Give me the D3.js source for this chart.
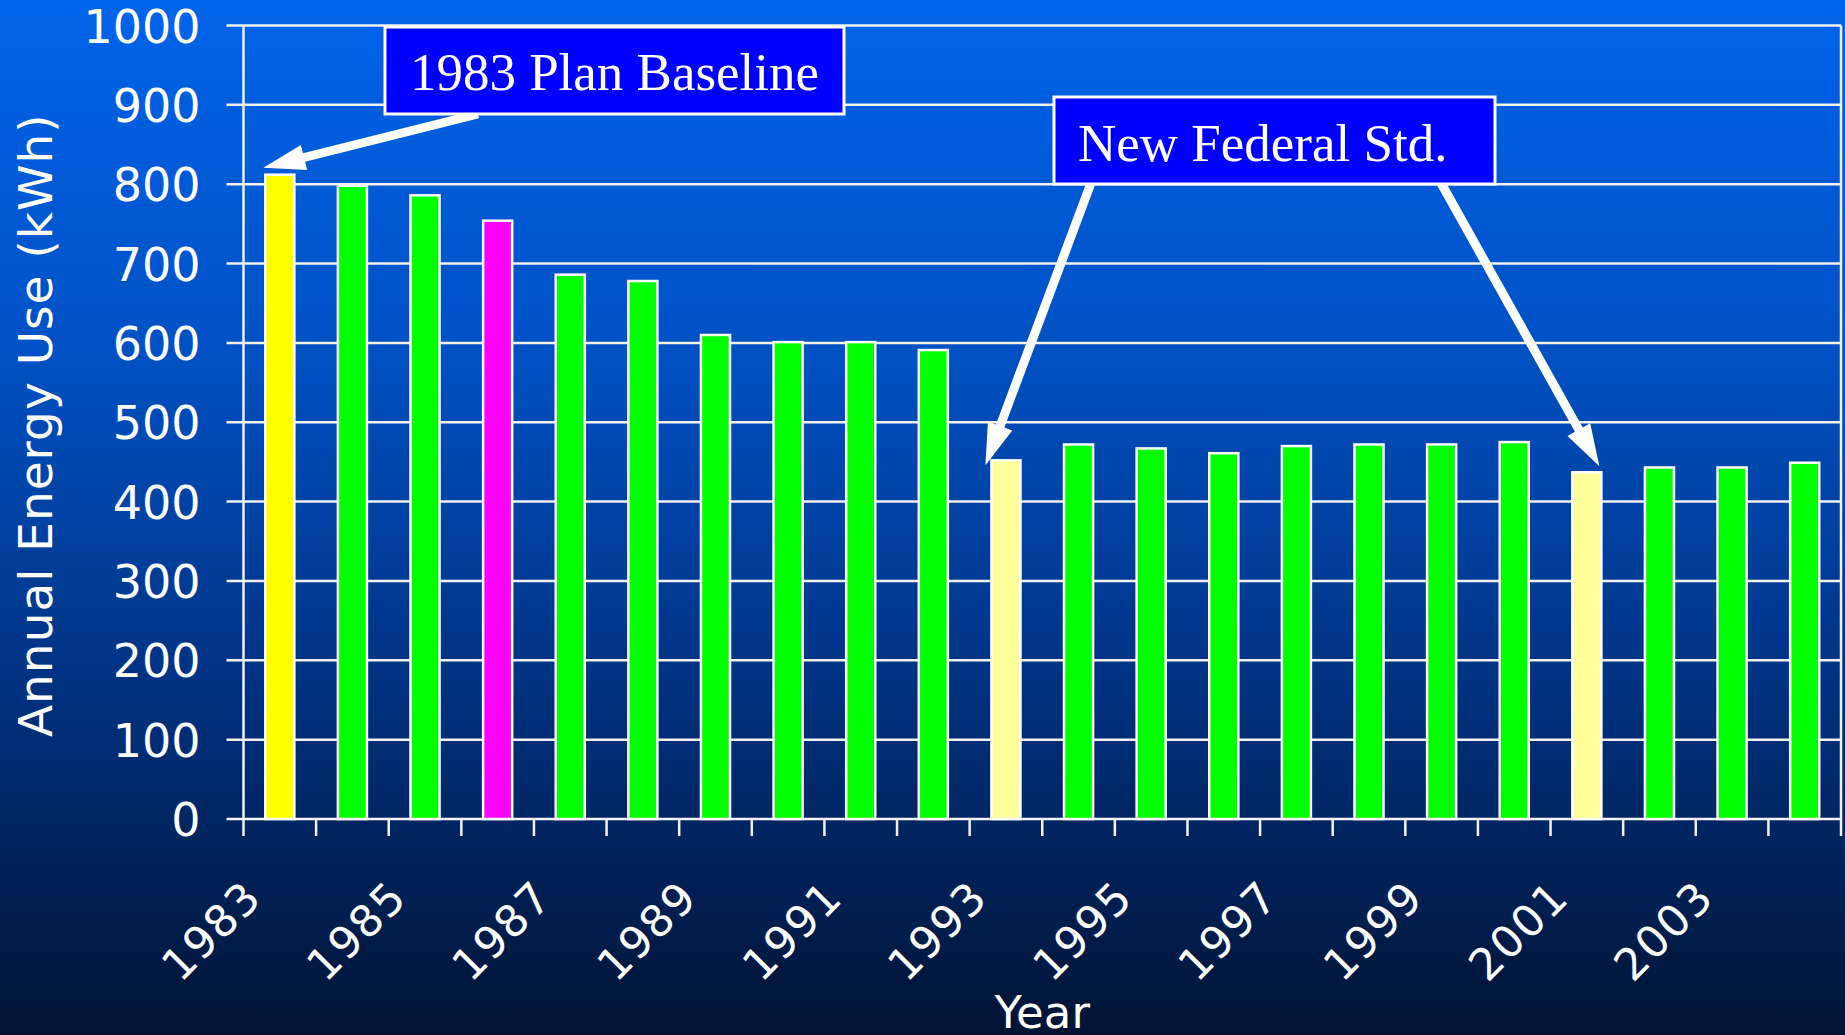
<!DOCTYPE html>
<html>
<head>
<meta charset="utf-8">
<script src="https://cdn.jsdelivr.net/npm/d3@7"></script>
<style>
    html, body { margin: 0; padding: 0; background: #001535; }
    svg { display: block; }
</style>
</head>
<body>
<svg id="chart"></svg>
<script>

// chart data
const years = ["1983", "1984", "1985", "1986", "1987", "1988", "1989", "1990", "1991", "1992", "1993",
    "1994", "1995", "1996", "1997", "1998", "1999", "2000", "2001", "2002", "2003", "2004"];
const energyUse = [812, 798, 786, 754, 686, 678, 610, 601, 601, 591, 452,
    472, 467, 461, 470, 472, 472, 475, 437, 443, 443, 449];
const barKind = ["baseline", "model", "model", "special", "model", "model", "model", "model", "model", "model", "standard",
    "model", "model", "model", "model", "model", "model", "model", "standard", "model", "model", "model"];
const yTicks = [0, 100, 200, 300, 400, 500, 600, 700, 800, 900, 1000];
const xTickLabels = ["1983", "1985", "1987", "1989", "1991", "1993", "1995", "1997", "1999", "2001", "2003"];

const kindColor = {
    baseline: "#ffff00",
    model: "#00ff00",
    special: "#ff00ff",
    standard: "#ffff99"
};

const chart = (function (svg) {

    const width = 1845,
        height = 1035;

    const plotLeft = 243.5,
        plotRight = 1841,
        plotTop = 25.5,
        plotBottom = 819;

    const axisFont = "'DejaVu Sans', Verdana, sans-serif",
        boxFont = "'Liberation Serif', 'Times New Roman', serif";

    svg.attr("width", width).attr("height", height);

    // background gradient
    const defs = svg.append("defs");
    const grad = defs.append("linearGradient")
        .attr("id", "bg")
        .attr("x1", 0).attr("y1", 0)
        .attr("x2", 0).attr("y2", 1);
    grad.append("stop").attr("offset", "0").attr("stop-color", "#0064ea");
    grad.append("stop").attr("offset", "0.35").attr("stop-color", "#0050c2");
    grad.append("stop").attr("offset", "0.7").attr("stop-color", "#002e78");
    grad.append("stop").attr("offset", "1").attr("stop-color", "#001333");

    svg.append("rect")
        .attr("width", width)
        .attr("height", height)
        .attr("fill", "url(#bg)");

    const x = d3.scaleBand()
        .domain(years)
        .range([plotLeft, plotRight])
        .paddingInner(0.6)
        .paddingOuter(0.3);

    const y = d3.scaleLinear()
        .domain([0, 1000])
        .range([plotBottom, plotTop]);

    const step = x.step(),
        gap = (step - x.bandwidth()) / 2;

    // horizontal grid lines (they also make the left ticks)
    svg.append("g")
        .selectAll("line")
        .data(yTicks)
        .enter()
        .append("line")
            .attr("x1", plotLeft - 17)
            .attr("x2", plotRight)
            .attr("y1", d => y(d))
            .attr("y2", d => y(d))
            .attr("stroke", "#f2f2f2")
            .attr("stroke-width", 2.5);

    // y axis labels
    const yAxis = d3.axisLeft(y)
        .tickValues(yTicks)
        .tickFormat(d3.format("d"))
        .tickSize(0)
        .tickPadding(43);

    const yAxisGroup = svg.append("g")
        .attr("transform", "translate(" + plotLeft + ",0)")
        .call(yAxis);
    yAxisGroup.select(".domain").remove();
    yAxisGroup.selectAll("text")
        .attr("fill", "white")
        .attr("font-family", axisFont)
        .attr("font-size", 46)
        .attr("dy", "0.36em");

    // vertical axis lines + ticks at band edges
    const tickXs = years.map(d => x(d) - gap);
    tickXs.push(plotRight);

    svg.append("g")
        .selectAll("line")
        .data(tickXs)
        .enter()
        .append("line")
            .attr("x1", d => d)
            .attr("x2", d => d)
            .attr("y1", plotBottom)
            .attr("y2", plotBottom + 17)
            .attr("stroke", "#f2f2f2")
            .attr("stroke-width", 2.5);

    svg.append("line")
        .attr("x1", plotLeft).attr("x2", plotLeft)
        .attr("y1", plotTop).attr("y2", plotBottom)
        .attr("stroke", "#f2f2f2")
        .attr("stroke-width", 2.5);

    svg.append("line")
        .attr("x1", plotRight).attr("x2", plotRight)
        .attr("y1", plotTop).attr("y2", plotBottom)
        .attr("stroke", "#f2f2f2")
        .attr("stroke-width", 2.5);

    // bars
    svg.append("g")
        .selectAll("rect")
        .data(years)
        .enter()
        .append("rect")
            .attr("x", d => x(d))
            .attr("y", (d, i) => y(energyUse[i]))
            .attr("width", x.bandwidth())
            .attr("height", (d, i) => y(0) - y(energyUse[i]))
            .attr("fill", (d, i) => kindColor[barKind[i]])
            .attr("stroke", "white")
            .attr("stroke-width", 2.5);

    // x labels, rotated
    svg.append("g")
        .selectAll("text")
        .data(xTickLabels)
        .enter()
        .append("text")
            .attr("transform", d => "translate(" + (x(d) + x.bandwidth() / 2 - 16) + "," + 900 + ") rotate(-45)")
            .attr("text-anchor", "end")
            .attr("fill", "white")
            .attr("font-family", axisFont)
            .attr("font-size", 44)
            .attr("letter-spacing", "1.5px")
            .text(d => d);

    // axis titles
    svg.append("text")
        .attr("transform", "translate(52," + (((plotTop + plotBottom) / 2) + 3) + ") rotate(-90)")
        .attr("text-anchor", "middle")
        .attr("fill", "white")
        .attr("font-family", axisFont)
        .attr("font-size", 47)
        .attr("letter-spacing", "1px")
        .text("Annual Energy Use (kWh)");

    svg.append("text")
        .attr("x", (plotLeft + plotRight) / 2)
        .attr("y", 1028)
        .attr("text-anchor", "middle")
        .attr("fill", "white")
        .attr("font-family", axisFont)
        .attr("font-size", 45)
        .text("Year");

    // arrow as a polygon from tail to tip
    const arrow = function (x0, y0, x1, y1) {
        const dx = x1 - x0, dy = y1 - y0;
        const len = Math.sqrt(dx * dx + dy * dy);
        const ux = dx / len, uy = dy / len;
        const nx = -uy, ny = ux;
        const shaft = 4.5, head = 13, headLen = 42;
        const bx = x1 - ux * headLen, by = y1 - uy * headLen;
        const pts = [
            [x0 + nx * shaft, y0 + ny * shaft],
            [bx + nx * shaft, by + ny * shaft],
            [bx + nx * head, by + ny * head],
            [x1, y1],
            [bx - nx * head, by - ny * head],
            [bx - nx * shaft, by - ny * shaft],
            [x0 - nx * shaft, y0 - ny * shaft]
        ];
        svg.append("polygon")
            .attr("points", pts.map(p => p.join(",")).join(" "))
            .attr("fill", "white");
    };

    const valueOf = year => energyUse[years.indexOf(year)];

    // annotation boxes
    const noteBox = function (bx, by, bw, bh, label, tx, ty, anchor) {
        svg.append("rect")
            .attr("x", bx).attr("y", by)
            .attr("width", bw).attr("height", bh)
            .attr("fill", "#0000ff")
            .attr("stroke", "white")
            .attr("stroke-width", 3);
        svg.append("text")
            .attr("x", tx).attr("y", ty)
            .attr("text-anchor", anchor)
            .attr("fill", "white")
            .attr("font-family", boxFont)
            .attr("font-size", 53)
            .text(label);
    };

    arrow(478, 114, x("1983") - 2, y(valueOf("1983")) - 7);
    arrow(1091, 183, x("1993") - 6, y(valueOf("1993")) + 5);
    arrow(1441, 183, x("2001") + x.bandwidth() - 2, y(valueOf("2001")) - 6);

    noteBox(385, 27, 459, 87, "1983 Plan Baseline", 614.5, 90, "middle");
    noteBox(1054, 97, 441, 87, "New Federal Std.", 1078, 160.5, "start");

    return svg;
})(d3.select("#chart"));

</script>
</body>
</html>
